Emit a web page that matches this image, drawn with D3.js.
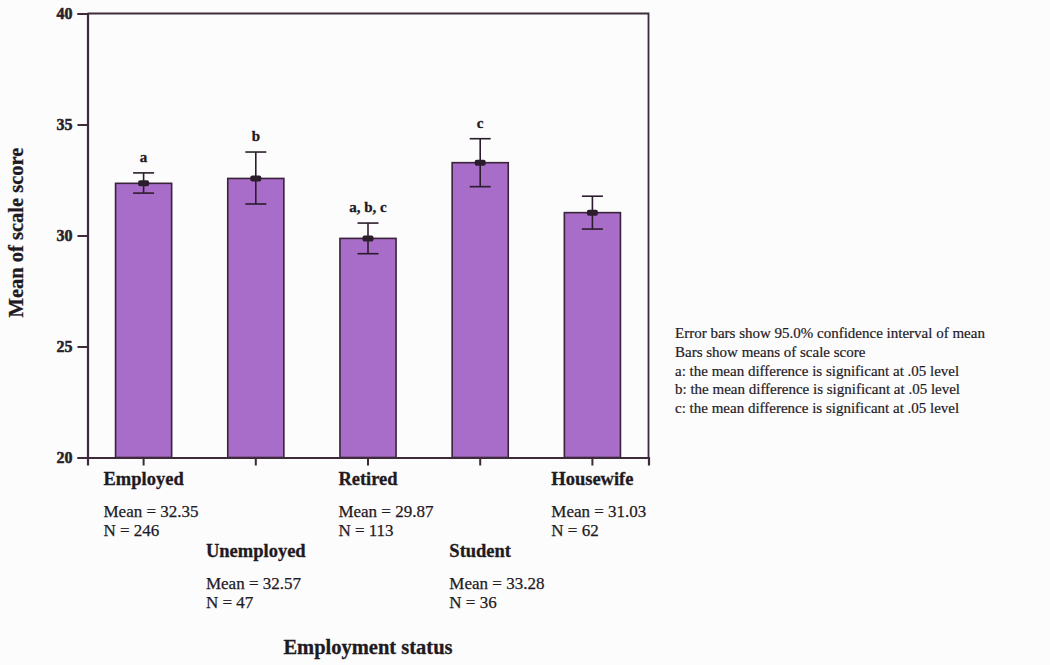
<!DOCTYPE html>
<html>
<head>
<meta charset="utf-8">
<script src="https://cdn.jsdelivr.net/npm/d3@7"></script>
<style>
  html, body { margin: 0; padding: 0; background: #fcfcfc; }
  svg { display: block; font-family: "Liberation Serif", "Times New Roman", serif; }
</style>
</head>
<body>
<svg id="chart" width="1050" height="665"></svg>
<script>
const categories = ["Employed", "Unemployed", "Retired", "Student", "Housewife"];
const means = [32.35, 32.57, 29.87, 33.28, 31.03];
const counts = [246, 47, 113, 36, 62];
const ciLow = [31.91, 31.42, 29.18, 32.20, 30.29];
const ciHigh = [32.82, 33.76, 30.56, 34.36, 31.77];
const sigLabels = ["a", "b", "a, b, c", "c", ""];
const yTicks = [20, 25, 30, 35, 40];
const yTitle = "Mean of scale score";
const xTitle = "Employment status";
const notes = [
  "Error bars show 95.0% confidence interval of mean",
  "Bars show means of scale score",
  "a: the mean difference is significant at .05 level",
  "b: the mean difference is significant at .05 level",
  "c: the mean difference is significant at .05 level"
];

const svg = d3.select("#chart");
const mLeft = 87.5, mRight = 648.5, mTop = 13.5, mBottom = 457.5;
const axisColor = "#3d2a3b";
const textColor = "#1f1a1f";

const x = d3.scaleBand().domain(categories).range([mLeft, mRight]).paddingInner(0.5).paddingOuter(0.25);
const y = d3.scaleLinear().domain([20, 40]).range([mBottom, mTop]);

const data = categories.map((c, i) => ({ c, i, mean: means[i], n: counts[i], lo: ciLow[i], hi: ciHigh[i], sig: sigLabels[i] }));

// bars
svg.append("g").selectAll("rect").data(data).join("rect")
  .attr("x", d => x(d.c))
  .attr("y", d => y(d.mean))
  .attr("width", x.bandwidth())
  .attr("height", d => y(20) - y(d.mean))
  .attr("fill", "#a86cc9")
  .attr("stroke", "#3a2338")
  .attr("stroke-width", 1.6);

// frame (top and right)
svg.append("path")
  .attr("d", `M${mLeft},${mTop}H${mRight}V${mBottom}`)
  .attr("fill", "none").attr("stroke", axisColor).attr("stroke-width", 1.8);

// y axis
const yAxis = svg.append("g").attr("transform", `translate(${mLeft},0)`)
  .call(d3.axisLeft(y).tickValues(yTicks).tickSize(10).tickPadding(5).tickFormat(d3.format("d")));
yAxis.select(".domain").attr("stroke", axisColor).attr("stroke-width", 2.2);
yAxis.selectAll(".tick line").attr("stroke", axisColor).attr("stroke-width", 2);
yAxis.selectAll(".tick text")
  .attr("fill", "#2a2028").attr("font-size", 16).attr("font-weight", "bold")
  .attr("stroke", "#2a2028").attr("stroke-width", 0.5)
  .attr("font-family", "'Liberation Serif', serif");

// x axis
const xAxis = svg.append("g").attr("transform", `translate(0,${mBottom})`)
  .call(d3.axisBottom(x).tickSize(8).tickFormat(""));
xAxis.select(".domain").attr("stroke", axisColor).attr("stroke-width", 2.2);
xAxis.selectAll(".tick line").attr("stroke", axisColor).attr("stroke-width", 2);

// error bars
const eb = svg.append("g").selectAll("g").data(data).join("g")
  .attr("stroke", "#2b1d2b").attr("stroke-width", 1.6);
const capW = 21;
eb.append("line")
  .attr("x1", d => x(d.c) + x.bandwidth() / 2).attr("x2", d => x(d.c) + x.bandwidth() / 2)
  .attr("y1", d => y(d.hi)).attr("y2", d => y(d.lo));
eb.append("line")
  .attr("x1", d => x(d.c) + x.bandwidth() / 2 - capW / 2).attr("x2", d => x(d.c) + x.bandwidth() / 2 + capW / 2)
  .attr("y1", d => y(d.hi)).attr("y2", d => y(d.hi));
eb.append("line")
  .attr("x1", d => x(d.c) + x.bandwidth() / 2 - capW / 2).attr("x2", d => x(d.c) + x.bandwidth() / 2 + capW / 2)
  .attr("y1", d => y(d.lo)).attr("y2", d => y(d.lo));
// mean markers
svg.append("g").selectAll("rect").data(data).join("rect")
  .attr("x", d => x(d.c) + x.bandwidth() / 2 - 5.5)
  .attr("y", d => y(d.mean) - 3)
  .attr("width", 11).attr("height", 6).attr("rx", 2)
  .attr("fill", "#2b1d2b");

// significance letters
svg.append("g").selectAll("text").data(data.filter(d => d.sig)).join("text")
  .attr("x", d => x(d.c) + x.bandwidth() / 2)
  .attr("y", d => y(d.hi) - 11)
  .attr("text-anchor", "middle")
  .attr("font-size", 15).attr("font-weight", "bold").attr("fill", textColor)
  .attr("stroke", textColor).attr("stroke-width", 0.3)
  .text(d => d.sig);

// category labels with mean / N
const rowBase = [485, 557];
const lab = svg.append("g").selectAll("g").data(data).join("g");
lab.each(function(d) {
  const g = d3.select(this);
  const cx = x(d.c) + x.bandwidth() / 2;
  const b = rowBase[d.i % 2];
  const t = g.append("text").attr("x", cx).attr("y", b)
    .attr("text-anchor", "middle").attr("font-size", 18.5).attr("font-weight", "bold")
    .attr("stroke", textColor).attr("stroke-width", 0.3)
    .attr("fill", textColor).text(d.c);
  const w = t.node().getComputedTextLength();
  const lx = cx - w / 2;
  g.append("text").attr("x", lx).attr("y", b + 32).attr("font-size", 17).attr("fill", textColor)
    .attr("stroke", textColor).attr("stroke-width", 0.25)
    .text("Mean = " + d.mean.toFixed(2));
  g.append("text").attr("x", lx).attr("y", b + 51).attr("font-size", 17).attr("fill", textColor)
    .attr("stroke", textColor).attr("stroke-width", 0.25)
    .text("N = " + d.n);
});

// axis titles
svg.append("text").attr("x", (mLeft + mRight) / 2).attr("y", 654)
  .attr("text-anchor", "middle").attr("font-size", 20.5).attr("font-weight", "bold")
  .attr("stroke", textColor).attr("stroke-width", 0.3)
  .attr("fill", textColor).text(xTitle);
svg.append("text").attr("transform", `translate(23,${(mTop + mBottom) / 2 - 3}) rotate(-90)`)
  .attr("text-anchor", "middle").attr("font-size", 20.5).attr("font-weight", "bold")
  .attr("stroke", textColor).attr("stroke-width", 0.3)
  .attr("fill", textColor).text(yTitle);

// notes
svg.append("g").selectAll("text").data(notes).join("text")
  .attr("x", 675).attr("y", (d, i) => 338 + i * 18.8)
  .attr("font-size", 15).attr("fill", textColor)
  .attr("stroke", textColor).attr("stroke-width", 0.2)
  .text(d => d);
</script>
</body>
</html>
